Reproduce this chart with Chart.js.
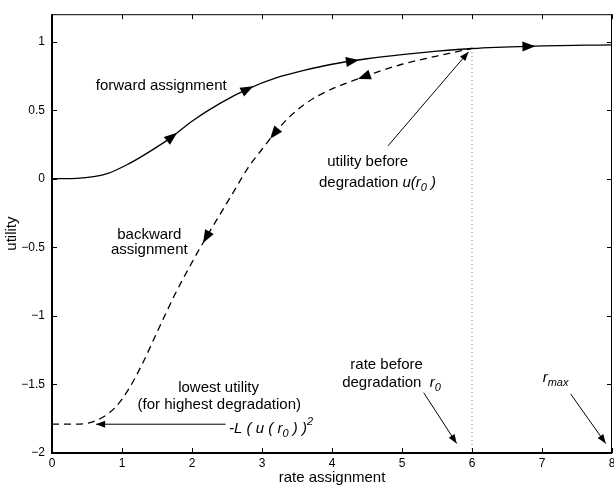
<!DOCTYPE html>
<html>
<head>
<meta charset="utf-8">
<script src="https://cdn.jsdelivr.net/npm/chart.js@4"></script>
<style>
  html, body { margin: 0; padding: 0; background: #fff; }
  #wrap { width: 614px; height: 489px; }
</style>
</head>
<body>
<div id="wrap"><canvas id="utilChart" width="614" height="489"></canvas></div>
<script>
// forward assignment curve (solid)
const fwdX = [0, 0.4, 0.8, 1.1, 1.4, 1.7, 2.0, 2.4, 2.8, 3.2, 3.6, 4.0, 4.5, 5.0, 5.5, 6.0, 6.8, 8];
const fwdY = [0, 0.005, 0.04, 0.11, 0.20, 0.30, 0.42, 0.55, 0.655, 0.735, 0.79, 0.835, 0.875, 0.905, 0.93, 0.95, 0.966, 0.977];
// backward assignment curve (dashed)
const bwdX = [0, 0.3, 0.6, 0.9, 1.1, 1.3, 1.5, 1.75, 2.0, 2.2, 2.4, 2.6, 2.8, 3.0, 3.2, 3.4, 3.6, 3.8, 4.0, 4.3, 4.6, 5.0, 5.5, 6.0];
const bwdY = [-1.79, -1.79, -1.77, -1.67, -1.53, -1.34, -1.12, -0.85, -0.61, -0.43, -0.26, -0.09, 0.08, 0.215, 0.345, 0.455, 0.54, 0.605, 0.655, 0.715, 0.77, 0.835, 0.895, 0.95];
// dotted line at r0
const dotX = [6, 6];
const dotY = [-2, 0.95];
// direction arrows on the curves (x positions)
const fwdArrowX = [1.72, 2.8, 4.3, 6.82];
const bwdArrowX = [4.45, 3.17, 2.2];
// annotation pointers: [fromX, fromY, toX, toY]
const pointers = [
  [4.8, 0.24, 5.95, 0.925],
  [2.48, -1.79, 0.63, -1.79],
  [5.31, -1.56, 5.78, -1.93],
  [7.41, -1.57, 7.91, -1.93]
];
const xTicks = [0, 1, 2, 3, 4, 5, 6, 7, 8];

const FONT = '"Liberation Sans", Arial, Helvetica, sans-serif';
const TXT = 15, SUB = 11;

// annotation texts: x, y in data units
const notes = [
  { x: 1.56, y: 0.674, segs: [{ t: "forward assignment" }] },
  { x: 1.39, y: -0.406, segs: [{ t: "backward" }] },
  { x: 1.39, y: -0.52, segs: [{ t: "assignment" }] },
  { x: 4.51, y: 0.12, segs: [{ t: "utility before" }] },
  { x: 4.65, y: -0.03, segs: [{ t: "degradation " }, { t: "u(r", it: 1 }, { t: "0", it: 1, sub: 1 }, { t: " )", it: 1 }] },
  { x: 2.38, y: -1.527, segs: [{ t: "lowest utility" }] },
  { x: 2.39, y: -1.65, segs: [{ t: "(for highest degradation)" }] },
  { x: 2.53, y: -1.826, left: 1, segs: [{ t: "-L ( u ( r", it: 1 }, { t: "0", it: 1, sub: 1 }, { t: " ) )", it: 1 }, { t: "2", it: 1, sup: 1 }] },
  { x: 4.78, y: -1.357, segs: [{ t: "rate before" }] },
  { x: 4.85, y: -1.49, segs: [{ t: "degradation  " }, { t: "r", it: 1 }, { t: "0", it: 1, sub: 1 }] },
  { x: 7.01, y: -1.455, left: 1, segs: [{ t: "r", it: 1 }, { t: "max", it: 1, sub: 1 }] }
];

function toPts(xs, ys) {
  return xs.map((x, i) => ({ x: x, y: ys[i] }));
}

function segFont(s) {
  return (s.it ? "italic " : "") + (s.sub || s.sup ? SUB : TXT) + "px " + FONT;
}

function drawRich(ctx, n, px, py) {
  let w = 0;
  n.segs.forEach(s => { ctx.font = segFont(s); s.w = ctx.measureText(s.t).width; w += s.w; });
  let cx = n.left ? px : px - w / 2;
  ctx.textAlign = "left";
  ctx.textBaseline = "middle";
  n.segs.forEach(s => {
    ctx.font = segFont(s);
    ctx.fillText(s.t, cx, py + (s.sub ? 5 : s.sup ? -7 : 0));
    cx += s.w;
  });
}

function head(ctx, x, y, ang, len, half) {
  ctx.save();
  ctx.translate(x, y);
  ctx.rotate(ang);
  ctx.beginPath();
  ctx.moveTo(0, 0);
  ctx.lineTo(-len, -half);
  ctx.lineTo(-len, half);
  ctx.closePath();
  ctx.fill();
  ctx.restore();
}

// point on polyline at x, plus pixel direction
function onCurve(xs, ys, x, sx, sy) {
  let i = 0;
  while (i < xs.length - 2 && xs[i + 1] < x) i++;
  const t = (x - xs[i]) / (xs[i + 1] - xs[i]);
  const y = ys[i] + t * (ys[i + 1] - ys[i]);
  const ang = Math.atan2(sy.getPixelForValue(ys[i + 1]) - sy.getPixelForValue(ys[i]),
                         sx.getPixelForValue(xs[i + 1]) - sx.getPixelForValue(xs[i]));
  return { px: sx.getPixelForValue(x), py: sy.getPixelForValue(y), ang: ang };
}

const decor = {
  id: "decor",
  afterDatasetsDraw(chart) {
    const ctx = chart.ctx, sx = chart.scales.x, sy = chart.scales.y;
    const a = chart.chartArea;
    ctx.save();
    ctx.fillStyle = "#000";
    ctx.strokeStyle = "#000";

    // arrowheads on curves
    fwdArrowX.forEach(x => {
      const p = onCurve(fwdX, fwdY, x, sx, sy);
      head(ctx, p.px + 6 * Math.cos(p.ang), p.py + 6 * Math.sin(p.ang), p.ang, 13, 5);
    });
    bwdArrowX.forEach(x => {
      const p = onCurve(bwdX, bwdY, x, sx, sy);
      const ang = p.ang + Math.PI;
      head(ctx, p.px + 6 * Math.cos(ang), p.py + 6 * Math.sin(ang), ang, 13, 5);
    });

    // pointers
    ctx.lineWidth = 1;
    pointers.forEach(p => {
      const x0 = sx.getPixelForValue(p[0]), y0 = sy.getPixelForValue(p[1]);
      const x1 = sx.getPixelForValue(p[2]), y1 = sy.getPixelForValue(p[3]);
      ctx.beginPath();
      ctx.moveTo(x0, y0);
      ctx.lineTo(x1, y1);
      ctx.stroke();
      head(ctx, x1, y1, Math.atan2(y1 - y0, x1 - x0), 9, 3.5);
    });

    // texts
    notes.forEach(n => drawRich(ctx, n, sx.getPixelForValue(n.x), sy.getPixelForValue(n.y)));

    // frame
    ctx.lineWidth = 1;
    ctx.strokeRect(a.left + 0.5, a.top + 0.5, a.right - a.left - 1, a.bottom - a.top);
    ctx.lineWidth = 2;
    ctx.beginPath();
    ctx.moveTo(a.left, a.top);
    ctx.lineTo(a.left, a.bottom);
    ctx.lineTo(a.right, a.bottom);
    ctx.stroke();

    // inward ticks
    ctx.lineWidth = 1;
    ctx.beginPath();
    sx.ticks.forEach(t => {
      const x = Math.round(sx.getPixelForValue(t.value)) + 0.5;
      ctx.moveTo(x, a.bottom); ctx.lineTo(x, a.bottom - 5);
      ctx.moveTo(x, a.top); ctx.lineTo(x, a.top + 5);
    });
    sy.ticks.forEach(t => {
      const y = Math.round(sy.getPixelForValue(t.value)) + 0.5;
      ctx.moveTo(a.left, y); ctx.lineTo(a.left + 5, y);
      ctx.moveTo(a.right, y); ctx.lineTo(a.right - 5, y);
    });
    ctx.stroke();
    ctx.restore();
  }
};

new Chart("utilChart", {
  type: "line",
  data: {
    datasets: [
      {
        label: "forward",
        data: toPts(fwdX, fwdY),
        borderColor: "#000",
        borderWidth: 1.3,
        pointRadius: 0,
        cubicInterpolationMode: "monotone",
        fill: false
      },
      {
        label: "backward",
        data: toPts(bwdX, bwdY),
        borderColor: "#000",
        borderWidth: 1.3,
        borderDash: [7, 5],
        pointRadius: 0,
        cubicInterpolationMode: "monotone",
        fill: false
      },
      {
        label: "r0",
        data: toPts(dotX, dotY),
        borderColor: "#888",
        borderWidth: 1,
        borderDash: [1, 3],
        pointRadius: 0,
        fill: false
      }
    ]
  },
  options: {
    responsive: false,
    animation: false,
    layout: { padding: { top: 11, right: 2, left: 0, bottom: 0 } },
    plugins: { legend: { display: false }, tooltip: { enabled: false } },
    scales: {
      x: {
        type: "linear",
        min: 0,
        max: 8,
        afterBuildTicks: s => { s.ticks = xTicks.map(v => ({ value: v })); },
        afterFit: s => { s.height = 36; s.paddingLeft = 0; s.paddingRight = 0; },
        grid: { display: false, drawTicks: false },
        border: { display: false },
        ticks: { color: "#000", padding: 3, font: { family: FONT, size: 12 }, maxRotation: 0 },
        title: { display: true, text: "rate assignment", color: "#000", padding: { top: 0, bottom: 2 }, font: { family: FONT, size: 15 } }
      },
      y: {
        min: -2,
        max: 1.2,
        ticks: {
          stepSize: 0.5,
          color: "#000",
          padding: 7,
          font: { family: FONT, size: 12 },
          callback: v => String(v).replace("-", "\u2212")
        },
        afterBuildTicks: s => { s.ticks = s.ticks.filter(t => t.value <= 1.0001); },
        afterFit: s => { s.width = 52; },
        grid: { display: false, drawTicks: false },
        border: { display: false },
        title: { display: true, text: "utility", color: "#000", padding: { top: 3, bottom: 0 }, font: { family: FONT, size: 15 } }
      }
    }
  },
  plugins: [decor]
});
</script>
</body>
</html>
